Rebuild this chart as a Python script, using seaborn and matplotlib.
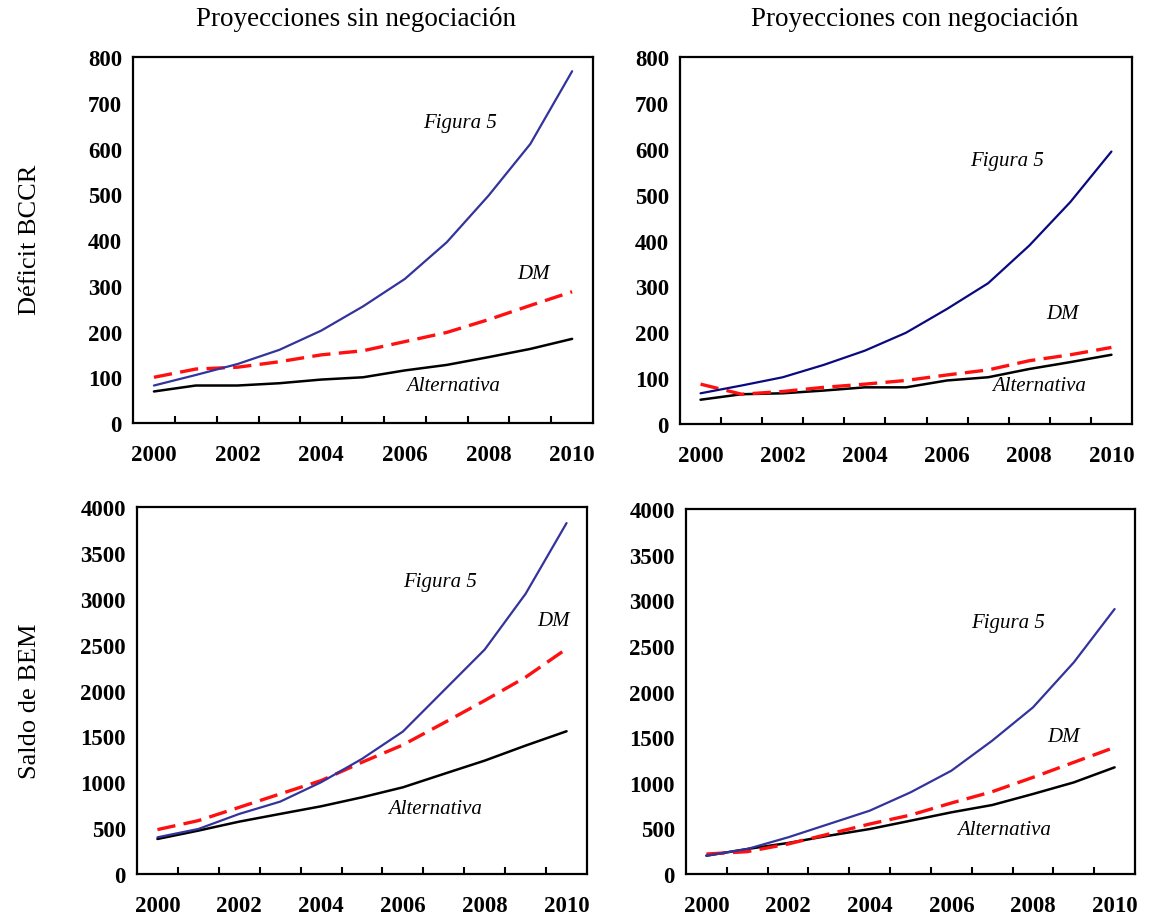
import numpy as np
import pandas as pd
import matplotlib
matplotlib.use("Agg")
import matplotlib.pyplot as plt
import seaborn as sns

years = list(range(2000, 2011))

# Déficit BCCR, proyecciones sin negociación
bccr_sin_fig5 = [82, 105, 129, 160, 202, 255, 315, 395, 497, 610, 769]
bccr_sin_dm = [100, 118, 122, 134, 149, 158, 178, 198, 226, 257, 287]
bccr_sin_alt = [69, 82, 82, 87, 95, 100, 115, 127, 144, 162, 184]

# Déficit BCCR, proyecciones con negociación
bccr_con_fig5 = [67, 84, 102, 129, 160, 199, 251, 307, 389, 484, 594]
bccr_con_dm = [87, 65, 71, 80, 87, 95, 107, 118, 138, 151, 167]
bccr_con_alt = [53, 65, 67, 73, 80, 80, 95, 102, 120, 135, 151]

# Saldo de BEM, proyecciones sin negociación
bem_sin_fig5 = [400, 491, 655, 789, 1000, 1255, 1553, 2000, 2447, 3055, 3825]
bem_sin_dm = [484, 582, 727, 873, 1018, 1218, 1407, 1647, 1891, 2145, 2455]
bem_sin_alt = [382, 473, 571, 655, 738, 836, 945, 1091, 1236, 1400, 1556]

# Saldo de BEM, proyecciones con negociación
bem_con_fig5 = [201, 274, 402, 548, 694, 895, 1132, 1461, 1826, 2319, 2904]
bem_con_dm = [219, 245, 329, 438, 548, 646, 778, 902, 1059, 1224, 1388]
bem_con_alt = [201, 274, 340, 420, 493, 584, 676, 756, 877, 1004, 1169]

col_titles = ["Proyecciones sin negociación", "Proyecciones con negociación"]
row_titles = ["Déficit BCCR", "Saldo de BEM"]
series_names = ["Figura 5", "DM", "Alternativa"]

sns.set_theme(style="white")
plt.rcParams["font.family"] = ["Liberation Serif", "DejaVu Serif"]
plt.rcParams["text.color"] = "black"
plt.rcParams["xtick.color"] = "black"
plt.rcParams["ytick.color"] = "black"

fig = plt.figure(figsize=(11.61, 9.2), dpi=100)

panels = [
    dict(rect=[0.1146, 0.5391, 0.3962, 0.3978], data=[bccr_sin_fig5, bccr_sin_dm, bccr_sin_alt],
         ymax=800, ystep=100, blue="#33339c",
         labels=[(2007.33, 658), (2009.07, 326), (2007.16, 81)]),
    dict(rect=[0.5857, 0.5380, 0.3893, 0.3989], data=[bccr_con_fig5, bccr_con_dm, bccr_con_alt],
         ymax=800, ystep=100, blue="#0a0a80",
         labels=[(2007.46, 575), (2008.8, 240), (2008.24, 83)]),
    dict(rect=[0.1180, 0.0489, 0.3876, 0.3989], data=[bem_sin_fig5, bem_sin_dm, bem_sin_alt],
         ymax=4000, ystep=500, blue="#33339c",
         labels=[(2006.9, 3183), (2009.69, 2768), (2006.79, 719)]),
    dict(rect=[0.5909, 0.0489, 0.3867, 0.3967], data=[bem_con_fig5, bem_con_dm, bem_con_alt],
         ymax=4000, ystep=500, blue="#33339c",
         labels=[(2007.4, 2757), (2008.75, 1504), (2007.29, 490)]),
]

for i, p in enumerate(panels):
    ax = fig.add_axes(p["rect"])
    df = pd.DataFrame({
        "year": years * 3,
        "value": p["data"][0] + p["data"][1] + p["data"][2],
        "serie": sum([[n] * len(years) for n in series_names], []),
    })
    sns.lineplot(data=df[df.serie == "Alternativa"], x="year", y="value", color="black",
                 lw=1.8, ax=ax, legend=False)
    sns.lineplot(data=df[df.serie == "DM"], x="year", y="value", color="#ff1010",
                 lw=2.4, ax=ax, legend=False, linestyle=(0, (5.5, 2.5)))
    sns.lineplot(data=df[df.serie == "Figura 5"], x="year", y="value", color=p["blue"],
                 lw=1.6, ax=ax, legend=False)

    ax.set_xlim(1999.5, 2010.5)
    ax.set_ylim(0, p["ymax"])
    ax.set_xticks(years[::2])
    ax.set_xticklabels([str(y) for y in years[::2]])
    ax.set_xticks(np.arange(2000.5, 2010, 1.0), minor=True)
    ax.set_yticks(np.arange(0, p["ymax"] + 1, p["ystep"]))
    ax.tick_params(axis="x", which="major", length=0, pad=15, labelsize=16.5)
    ax.tick_params(axis="x", which="minor", direction="in", length=5, width=1.5,
                   color="black", bottom=True)
    ax.tick_params(axis="y", length=0, pad=8, labelsize=16.5)
    for lab in ax.get_xticklabels() + ax.get_yticklabels():
        lab.set_fontweight("bold")
        lab.set_color("black")
    for s in ax.spines.values():
        s.set_visible(True)
        s.set_color("black")
        s.set_linewidth(1.6)
    ax.set_xlabel("")
    ax.set_ylabel("")
    for name, (lx, ly) in zip(series_names, p["labels"]):
        ax.text(lx, ly, name, style="italic", fontsize=15, ha="center", va="center",
                color="black")

fig.text(0.307, 0.979, col_titles[0], ha="center", va="center", fontsize=19.5)
fig.text(0.788, 0.979, col_titles[1], ha="center", va="center", fontsize=19.5)
fig.text(0.026, 0.739, row_titles[0], ha="center", va="center", rotation=90, fontsize=19)
fig.text(0.026, 0.238, row_titles[1], ha="center", va="center", rotation=90, fontsize=19)

fig.savefig("out.png", dpi=100)
